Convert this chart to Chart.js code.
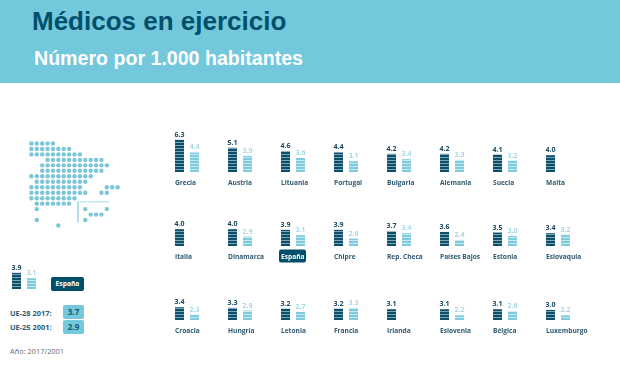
<!DOCTYPE html>
<html><head><meta charset="utf-8">
<script src="https://cdn.jsdelivr.net/npm/chart.js@4"></script>
<style>
html,body{margin:0;padding:0;background:#fff;width:620px;height:368px;overflow:hidden}
#head{position:absolute;left:0;top:0;width:620px;height:83px;background:#74c8dc}
.t{position:absolute;white-space:nowrap;font-family:"Liberation Sans",sans-serif;font-weight:700}
#title{left:32px;top:5px;font-size:26px;color:#004f6b;line-height:32px}
#sub{left:34px;top:46px;font-size:19.6px;color:#fff;line-height:24px}
.s{position:absolute;white-space:nowrap;font-family:"Open Sans",sans-serif;font-size:7.4px;line-height:14px}
.b{font-weight:700;color:#2f5a70}
.box{background:#74c8dc;border-radius:2px;width:21px;height:14px;text-align:center;color:#1c566f;font-weight:700;font-size:8px}
.badge{background:#004f6b;color:#fff;border-radius:2px;font-weight:700;text-align:center;font-size:6.7px}
canvas{position:absolute}
</style></head><body>
<div id="head"></div>
<div class="t" id="title">Médicos en ejercicio</div>
<div class="t" id="sub">Número por 1.000 habitantes</div>
<div class="s badge" style="left:51px;top:277px;width:33px;height:14px">España</div>
<div class="s b" style="left:10px;top:306px">UE-28 2017:</div>
<div class="s b" style="left:10px;top:320px">UE-25 2001:</div>
<div class="s box" style="left:63px;top:305px">3.7</div>
<div class="s box" style="left:63px;top:320px">2.9</div>
<div class="s" style="left:10px;top:344px;color:#6b6b6b">Año: 2017/2001</div>
<script>
const countries=["Grecia","Austria","Lituania","Portugal","Bulgaria","Alemania","Suecia","Malta",
"Italia","Dinamarca","España","Chipre","Rep. Checa","Países Bajos","Estonia","Eslovaquia",
"Croacia","Hungría","Letonia","Francia","Irlanda","Eslovenia","Bélgica","Luxemburgo"];
const values2017=[6.3,5.1,4.6,4.4,4.2,4.2,4.1,4.0,
4.0,4.0,3.9,3.9,3.7,3.6,3.5,3.4,
3.4,3.3,3.2,3.2,3.1,3.1,3.1,3.0];
const values2001=[4.4,3.9,3.6,3.1,3.4,3.3,3.2,null,
null,2.9,3.1,2.6,3.4,2.4,3.0,3.2,
2.3,2.9,2.7,3.3,null,2.2,2.8,2.2];
const spainLegend=[3.9,3.1];
const mapRows=[
[0,1,2,3,4],
[0,1,2,3,4,5,6,7],
[0,1,2,3,4,5,6,7,8,9],
[3,4,5,6,7,8,9,10,11,12,13],
[2,3,4,5,6,7,8,9,10,11,12,13,14],
[2,3,4,5,6,7,8,9,10,11,12,13],
[0,1,2,3,4,5,6,7,8,9,10,11],
[1,2,3,4,5,6,7,8,9,10],
[0,1,2,3,4,5,6,7,8,9,14,15,16],
[0,1,2,3,4,5,6,7,8,9,10,13,14],
[0,1,2,3,4,5,6,7,8],
[1,2,3,4,5,6,7],
[1,10,14],
[11,12,13],
[1,10],
[5]];
const canaryBox=[{x:14.44,y:10.67},{x:8.64,y:10.67},{x:8.64,y:14.4}];

function stripes(color,gap){
  const c=document.createElement('canvas');c.width=4;c.height=3;
  const g=c.getContext('2d');
  g.fillStyle=color;g.fillRect(0,0,4,3);
  g.fillStyle=gap;g.fillRect(0,2,4,1);
  return g.createPattern(c,'repeat');
}
const darkFill=stripes('#0b4f6b','#7fa5b5');
const lightFill=stripes('#7fcbde','#c6e8f0');

const labelPlugin={id:'labels',afterDatasetsDraw(ch,_,o){
  const {ctx}=ch,meta=ch.getDatasetMeta(0);
  const base=ch.scales.y.getPixelForValue(1.5);
  ctx.save();ctx.textBaseline='alphabetic';
  ctx.textAlign='center';
  ch.data.datasets[0].data.forEach((v,i)=>{
    if(v==null)return;
    ctx.font=(i===0?'700 ':'600 ')+'7px "Open Sans"';
    ctx.fillStyle=i===0?'#17465c':'#93d2e2';
    ctx.fillText(v.toFixed(1),meta.data[i].x,ch.scales.y.getPixelForValue(v)-3);
  });
  if(o.name){
    const x=meta.data[0].x-4.5;
    if(o.badge){ctx.fillStyle='#004f6b';ctx.beginPath();ctx.roundRect(x-2,base+3.5,27,13,2);ctx.fill();}
    ctx.textAlign='left';ctx.font='700 6.6px "Open Sans"';
    ctx.fillStyle=o.badge?'#fff':'#2f5a70';
    ctx.fillText(o.name,x,base+12.5);
  }
  ctx.restore();
}};

function panel(left,baseline,vals,name){
  const cv=document.createElement('canvas');
  cv.style.left=(left-3)+'px';cv.style.top=(baseline-50)+'px';
  cv.width=53;cv.height=68;document.body.appendChild(cv);
  new Chart(cv,{type:'bar',plugins:[labelPlugin],
    data:{labels:['2017','2001'],datasets:[{data:vals,backgroundColor:[darkFill,lightFill],
      barPercentage:0.6,categoryPercentage:1,borderWidth:0}]},
    options:{responsive:false,animation:false,events:[],
      layout:{padding:{left:0,right:23,top:13,bottom:18}},
      plugins:{legend:{display:false},tooltip:{enabled:false},title:{display:false},
        labels:{name:name,badge:name==='España'}},
      scales:{x:{display:false},y:{display:false,min:1.5,max:7}}}});
}
const colX=[175,228,281,334,387,440,493,546],rowBase=[172,246,320];
countries.forEach((n,i)=>{
  panel(colX[i%8],rowBase[Math.floor(i/8)],[values2017[i],values2001[i]],n);
});
panel(12,289,spainLegend,'');

const mapPts=[];
mapRows.forEach((r,y)=>r.forEach(x=>mapPts.push({x,y})));
const mc=document.createElement('canvas');
mc.style.left='26px';mc.style.top='138px';mc.width=97;mc.height=93;document.body.appendChild(mc);
new Chart(mc,{type:'scatter',
  data:{datasets:[
    {data:mapPts,pointRadius:2.2,pointBackgroundColor:'#7cc6d9',pointBorderWidth:0,showLine:false},
    {data:canaryBox,showLine:true,pointRadius:0,borderColor:'#a9dbe7',borderWidth:1}]},
  options:{responsive:false,animation:false,events:[],layout:{autoPadding:false,padding:0},
    plugins:{legend:{display:false},tooltip:{enabled:false}},
    scales:{x:{display:false,min:-1,max:17},y:{display:false,reverse:true,min:-1,max:16}}}});
</script>
</body></html>
